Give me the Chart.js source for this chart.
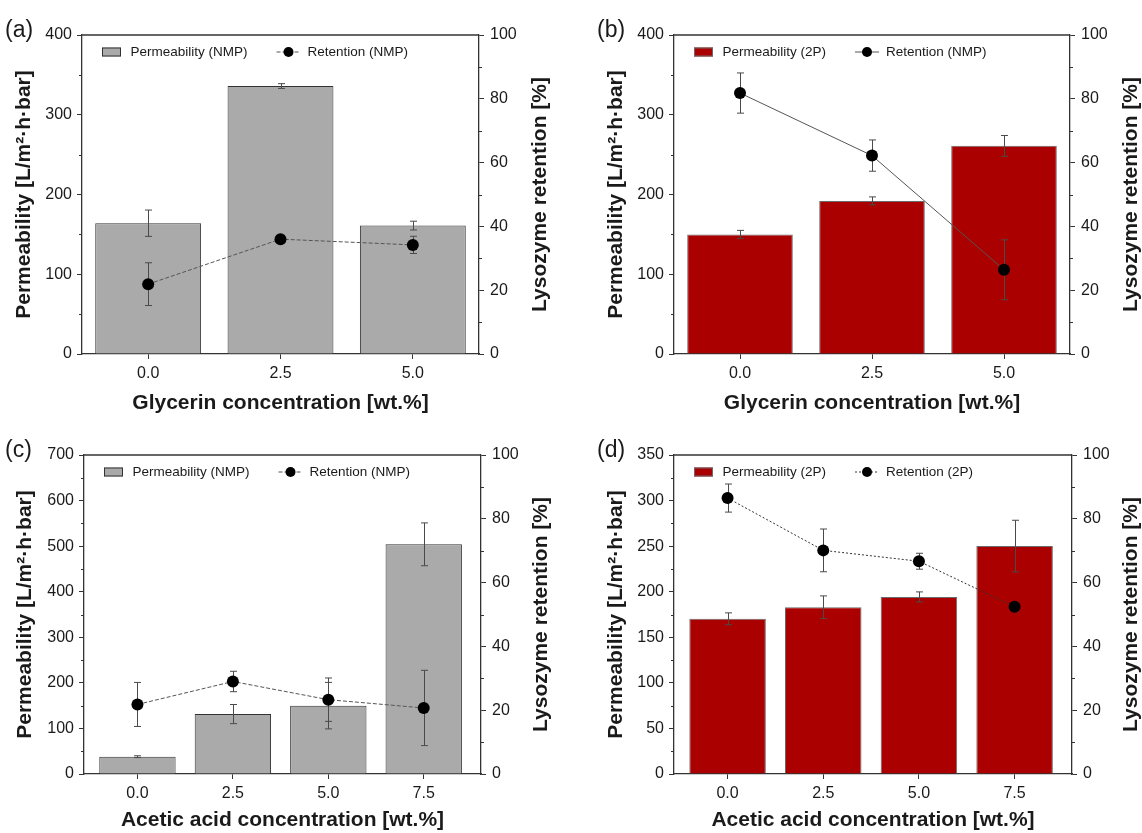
<!DOCTYPE html>
<html>
<head>
<meta charset="utf-8">
<script src="https://cdn.jsdelivr.net/npm/chart.js@4.4.1/dist/chart.umd.min.js"></script>
<style>
  body { margin: 0; background: #fff; width: 1142px; height: 833px; position: relative; overflow: hidden; }
  canvas { position: absolute; }
</style>
</head>
<body>
<canvas id="chartA" width="571" height="420" style="left:0;top:0"></canvas>
<canvas id="chartB" width="550" height="420" style="left:592px;top:0"></canvas>
<canvas id="chartC" width="571" height="413" style="left:0;top:420px"></canvas>
<canvas id="chartD" width="550" height="413" style="left:592px;top:420px"></canvas>
<script>
// Concentrations (x) and their tick labels
const glycerinX = [0, 2.5, 5];
const glycerinLabels = ["0.0", "2.5", "5.0"];
const aceticX = [0, 2.5, 5, 7.5];
const aceticLabels = ["0.0", "2.5", "5.0", "7.5"];

// (a) glycerin, NMP
const permNmpGly = [164, 336, 161];
const permNmpGlyErr = [16.5, 3, 5.5];
const retNmpGly = [21.9, 36.0, 34.2];
const retNmpGlyErr = [6.7, 1, 2.7];

// (b) glycerin, 2P
const perm2pGly = [150, 192, 261];
const perm2pGlyErr = [5, 5, 13];
const ret2pGly = [81.8, 62.2, 26.4];
const ret2pGlyErr = [6.3, 4.9, 9.4];

// (c) acetic acid, NMP
const permNmpAce = [38, 131.5, 150, 504];
const permNmpAceErr = [2, 21, 51, 47];
const retNmpAce = [21.8, 29.0, 23.3, 20.7];
const retNmpAceErr = [6.9, 3.2, 6.8, 11.8];

// (d) acetic acid, 2P
const perm2pAce = [170.3, 183, 194.3, 250.1];
const perm2pAceErr = [6.5, 12.4, 5.5, 28.3];
const ret2pAce = [86.5, 70.1, 66.7, 52.4];
const ret2pAceErr = [4.4, 6.7, 2.5, 1.5];

// axis ranges
const retMax = 100, retStep = 20;
const permMaxA = 400, permStepA = 100;
const permMaxC = 700, permStepC = 100;
const permMaxD = 350, permStepD = 50;

const FONT = "'Liberation Sans', Arial, sans-serif";
const AXIS = "#333";
const TEXT = "#1a1a1a";

// error bars with caps, drawn through the chart scales
function drawErrors(ctx, xScale, yScale, points, errs) {
  ctx.save();
  ctx.strokeStyle = "#4a4a4a";
  ctx.lineWidth = 1;
  points.forEach((p, i) => {
    const px = Math.round(xScale.getPixelForValue(p.x)) + 0.5;
    const top = yScale.getPixelForValue(p.y + errs[i]);
    const bot = yScale.getPixelForValue(p.y - errs[i]);
    ctx.beginPath();
    ctx.moveTo(px, top); ctx.lineTo(px, bot);
    ctx.moveTo(px - 3.5, top); ctx.lineTo(px + 3.5, top);
    ctx.moveTo(px - 3.5, bot); ctx.lineTo(px + 3.5, bot);
    ctx.stroke();
  });
  ctx.restore();
}

const errorBarPlugin = {
  id: "errorBars",
  afterDatasetDraw(chart, args) {
    const ds = chart.data.datasets[args.index];
    if (ds.type !== "bar") return;
    drawErrors(chart.ctx, chart.scales.x, chart.scales.y, ds.data, ds.errors);
  },
  beforeDatasetDraw(chart, args) {
    const ds = chart.data.datasets[args.index];
    if (ds.type !== "line") return;
    drawErrors(chart.ctx, chart.scales.x, chart.scales.y1, ds.data, ds.errors);
  }
};

// frame, minor ticks, titles, panel letter and legend
const decorPlugin = {
  id: "decor",
  afterDraw(chart, args, opts) {
    const ctx = chart.ctx;
    const a = chart.chartArea;
    const yL = chart.scales.y, yR = chart.scales.y1;
    ctx.save();
    // top frame line
    ctx.strokeStyle = AXIS;
    ctx.lineWidth = 1.3;
    ctx.beginPath();
    ctx.moveTo(a.left, a.top); ctx.lineTo(a.right, a.top);
    ctx.stroke();

    // minor ticks
    ctx.lineWidth = 1;
    ctx.beginPath();
    for (let v = opts.permStep / 2; v < opts.permMax; v += opts.permStep) {
      const py = Math.round(yL.getPixelForValue(v)) + 0.5;
      ctx.moveTo(a.left - 3, py); ctx.lineTo(a.left, py);
    }
    for (let v = retStep / 2; v < retMax; v += retStep) {
      const py = Math.round(yR.getPixelForValue(v)) + 0.5;
      ctx.moveTo(a.right, py); ctx.lineTo(a.right + 3, py);
    }
    ctx.stroke();

    // axis titles
    ctx.fillStyle = TEXT;
    ctx.font = "bold 21px " + FONT;
    ctx.textAlign = "center";
    ctx.textBaseline = "middle";
    ctx.fillText(opts.xTitle, (a.left + a.right) / 2, opts.xTitleY);
    const midY = (a.top + a.bottom) / 2;
    ctx.save();
    ctx.translate(opts.yTitleX, midY);
    ctx.rotate(-Math.PI / 2);
    ctx.fillText("Permeability [L/m²·h·bar]", 0, 0);
    ctx.restore();
    ctx.save();
    ctx.translate(opts.y1TitleX, midY);
    ctx.rotate(-Math.PI / 2);
    ctx.fillText("Lysozyme retention [%]", 0, 0);
    ctx.restore();

    // panel letter
    ctx.font = "23px " + FONT;
    ctx.textAlign = "left";
    ctx.textBaseline = "alphabetic";
    ctx.fillText(opts.letter, 5, 37);

    // legend
    const ly = a.top + 17;
    const bar = chart.data.datasets[0], line = chart.data.datasets[1];
    ctx.fillStyle = bar.backgroundColor;
    ctx.fillRect(a.left + 20, ly - 4.5, 19, 9);
    ctx.strokeStyle = bar.borderColor;
    ctx.lineWidth = 1;
    ctx.strokeRect(a.left + 20.5, ly - 4, 18, 8);
    ctx.fillStyle = TEXT;
    ctx.font = "13.5px " + FONT;
    ctx.textBaseline = "middle";
    ctx.fillText(bar.label, a.left + 48.5, ly);
    const lx = a.left + 48.5 + ctx.measureText(bar.label).width + 29;
    ctx.strokeStyle = line.borderColor;
    ctx.setLineDash(line.borderDash || []);
    ctx.beginPath();
    ctx.moveTo(lx, ly); ctx.lineTo(lx + 24, ly);
    ctx.stroke();
    ctx.setLineDash([]);
    ctx.fillStyle = "#000";
    ctx.beginPath();
    ctx.arc(lx + 12, ly, 5, 0, Math.PI * 2);
    ctx.fill();
    ctx.fillStyle = TEXT;
    ctx.fillText(line.label, lx + 31, ly);
    ctx.restore();
  }
};

function makePanel(id, p) {
  const canvas = document.getElementById(id);
  const H = canvas.height;
  const tickFont = { family: FONT, size: 16 };
  const axisGrid = { display: true, drawOnChartArea: false, drawTicks: true, tickLength: 5, tickColor: AXIS, tickWidth: 1, offset: false };
  const axisBorder = { display: true, color: AXIS, width: 1.3 };

  return new Chart(canvas, {
    type: "bar",
    data: {
      datasets: [
        {
          type: "bar",
          label: p.barLabel,
          data: p.xs.map((x, i) => ({ x: x, y: p.perm[i] })),
          errors: p.permErr,
          backgroundColor: p.barColor,
          borderColor: p.barBorder,
          borderWidth: 1,
          barPercentage: 0.8,
          categoryPercentage: 1,
          yAxisID: "y",
          order: 2
        },
        {
          type: "line",
          label: p.lineLabel,
          data: p.xs.map((x, i) => ({ x: x, y: p.ret[i] })),
          errors: p.retErr,
          borderColor: p.lineColor,
          borderWidth: 1,
          borderDash: p.lineDash,
          pointRadius: 6,
          pointBackgroundColor: "#000",
          pointBorderColor: "#000",
          pointBorderWidth: 0,
          tension: 0,
          yAxisID: "y1",
          order: 1
        }
      ]
    },
    options: {
      responsive: false,
      animation: false,
      devicePixelRatio: 1,
      layout: { padding: { top: 35, left: 0, right: 0, bottom: 0 } },
      plugins: {
        legend: { display: false },
        tooltip: { enabled: false },
        decor: {
          letter: p.letter, xTitle: p.xTitle, xTitleY: p.xTitleY,
          yTitleX: p.yTitleX, y1TitleX: p.y1TitleX,
          permMax: p.permMax, permStep: p.permStep
        }
      },
      scales: {
        x: {
          type: "linear",
          offset: false,
          min: p.xMin, max: p.xMax,
          afterBuildTicks: s => { s.ticks = p.xs.map(v => ({ value: v })); },
          afterFit: s => { s.height = H - 354; },
          ticks: {
            font: tickFont, color: TEXT, padding: 5, maxRotation: 0,
            callback: (v, i) => p.xLabels[i]
          },
          grid: axisGrid,
          border: axisBorder
        },
        y: {
          position: "left",
          min: 0, max: p.permMax,
          afterFit: s => { s.width = p.left; },
          ticks: { stepSize: p.permStep, font: tickFont, color: TEXT, padding: 5 },
          grid: axisGrid,
          border: axisBorder
        },
        y1: {
          position: "right",
          min: 0, max: retMax,
          afterFit: s => { s.width = canvas.width - p.right; },
          ticks: { stepSize: retStep, font: tickFont, color: TEXT, padding: 6 },
          grid: axisGrid,
          border: axisBorder
        }
      }
    },
    plugins: [errorBarPlugin, decorPlugin]
  });
}

const GRAY = "#aaaaaa", GRAY_EDGE = "#333333";
const RED = "#aa0000", RED_EDGE = "#6a6a6a";

makePanel("chartA", {
  letter: "(a)", xs: glycerinX, xLabels: glycerinLabels, xMin: -1.25, xMax: 6.25,
  perm: permNmpGly, permErr: permNmpGlyErr, ret: retNmpGly, retErr: retNmpGlyErr,
  permMax: permMaxA, permStep: permStepA,
  barColor: GRAY, barBorder: GRAY_EDGE, lineColor: "#555", lineDash: [4, 2],
  barLabel: "Permeability (NMP)", lineLabel: "Retention (NMP)",
  xTitle: "Glycerin concentration [wt.%]", xTitleY: 403,
  left: 82, right: 479, yTitleX: 24, y1TitleX: 540
});

makePanel("chartB", {
  letter: "(b)", xs: glycerinX, xLabels: glycerinLabels, xMin: -1.25, xMax: 6.25,
  perm: perm2pGly, permErr: perm2pGlyErr, ret: ret2pGly, retErr: ret2pGlyErr,
  permMax: permMaxA, permStep: permStepA,
  barColor: RED, barBorder: RED_EDGE, lineColor: "#555", lineDash: [],
  barLabel: "Permeability (2P)", lineLabel: "Retention (NMP)",
  xTitle: "Glycerin concentration [wt.%]", xTitleY: 403,
  left: 82, right: 478, yTitleX: 24, y1TitleX: 539
});

makePanel("chartC", {
  letter: "(c)", xs: aceticX, xLabels: aceticLabels, xMin: -1.4, xMax: 9.0,
  perm: permNmpAce, permErr: permNmpAceErr, ret: retNmpAce, retErr: retNmpAceErr,
  permMax: permMaxC, permStep: permStepC,
  barColor: GRAY, barBorder: GRAY_EDGE, lineColor: "#555", lineDash: [4, 2],
  barLabel: "Permeability (NMP)", lineLabel: "Retention (NMP)",
  xTitle: "Acetic acid concentration [wt.%]", xTitleY: 400,
  left: 84, right: 481, yTitleX: 25, y1TitleX: 541
});

makePanel("chartD", {
  letter: "(d)", xs: aceticX, xLabels: aceticLabels, xMin: -1.4, xMax: 9.0,
  perm: perm2pAce, permErr: perm2pAceErr, ret: ret2pAce, retErr: ret2pAceErr,
  permMax: permMaxD, permStep: permStepD,
  barColor: RED, barBorder: RED_EDGE, lineColor: "#333", lineDash: [2, 2],
  barLabel: "Permeability (2P)", lineLabel: "Retention (2P)",
  xTitle: "Acetic acid concentration [wt.%]", xTitleY: 400,
  left: 82, right: 480, yTitleX: 24, y1TitleX: 539
});
</script>
</body>
</html>
